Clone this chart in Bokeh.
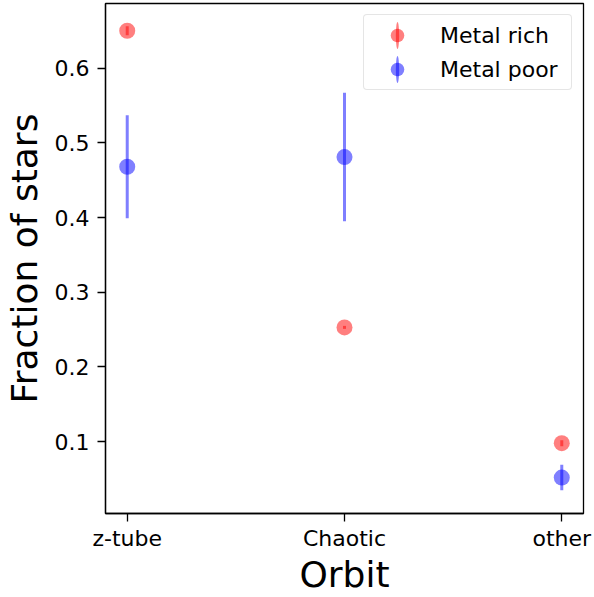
import numpy as np
from bokeh.plotting import figure
from bokeh.models import (ColumnDataSource, Range1d, FixedTicker, Legend, LegendItem, Ellipse)
from bokeh.embed import file_html
from bokeh.resources import INLINE

categories = ["z-tube", "Chaotic", "other"]
rich_vals = [0.650, 0.253, 0.098]
rich_errs = [0.006, 0.002, 0.004]
poor_vals = [0.468, 0.481, 0.052]
poor_errs = [0.069, 0.086, 0.017]
y_ticks = [0.1, 0.2, 0.3, 0.4, 0.5, 0.6]

FONT = "DejaVu Sans"

p = figure(width=594, height=597, output_backend="svg", toolbar_location=None,
           x_range=Range1d(-0.1, 2.1), y_range=Range1d(0.0039, 0.6865),
           min_border_left=105, min_border_right=11, min_border_top=3, min_border_bottom=83)
p.grid.visible = False
p.outline_line_color = "black"
p.outline_line_width = 1.3
p.background_fill_color = "white"
p.border_fill_color = "white"

xs = list(range(len(categories)))

def series(vals, errs, color):
    src = ColumnDataSource(dict(
        x=xs, y=vals,
        lo=[v - e for v, e in zip(vals, errs)],
        hi=[v + e for v, e in zip(vals, errs)]))
    sc = p.scatter("x", "y", source=src, size=16, marker="circle",
                   fill_color=color, fill_alpha=0.5, line_color=None)
    seg = p.segment("x", "lo", "x", "hi", source=src, line_color=color,
                    line_alpha=0.5, line_width=3)
    # legend-only glyph: a thin upright ellipse stands for the error bar
    leg_src = ColumnDataSource(dict(x=[np.nan], y=[np.nan]))
    el = p.add_glyph(leg_src, Ellipse(x="x", y="y", width=3.2, height=26,
                                      width_units="screen", height_units="screen",
                                      fill_color=color, fill_alpha=0.5, line_color=None))
    return sc, seg, el

r_sc, r_seg, r_el = series(rich_vals, rich_errs, "red")
b_sc, b_seg, b_el = series(poor_vals, poor_errs, "blue")

xa = p.xaxis[0]
xa.ticker = FixedTicker(ticks=xs)
xa.major_label_overrides = {i: c for i, c in enumerate(categories)}
ya = p.yaxis[0]
ya.ticker = FixedTicker(ticks=y_ticks)

for ax in (xa, ya):
    ax.axis_line_color = "black"
    ax.axis_line_width = 1.3
    ax.major_tick_line_width = 1.3
    ax.major_tick_out = 8
    ax.major_tick_in = 0
    ax.minor_tick_line_color = None
    ax.major_label_text_font = FONT
    ax.major_label_text_font_size = "22px"
    ax.major_label_text_color = "black"
    ax.axis_label_text_font = FONT
    ax.axis_label_text_font_size = "36px"
    ax.axis_label_text_font_style = "normal"
    ax.axis_label_text_color = "black"

xa.axis_label = "Orbit"
ya.axis_label = "Fraction of stars"
xa.major_label_standoff = 4
xa.axis_label_standoff = 0
ya.major_label_standoff = 8
ya.axis_label_standoff = 7

legend = Legend(items=[
    LegendItem(label="Metal rich", renderers=[r_sc, r_el]),
    LegendItem(label="Metal poor", renderers=[b_sc, b_el]),
], location="top_right")
legend.margin = 11
legend.padding = 3
legend.spacing = 0
legend.glyph_height = 34
legend.glyph_width = 60
legend.label_standoff = 13
legend.label_width = 128
legend.label_text_font = FONT
legend.label_text_font_size = "22px"
legend.label_text_color = "black"
legend.label_text_baseline = "middle"
legend.border_line_color = "#cccccc"
legend.border_line_width = 1
legend.border_radius = 4
legend.background_fill_alpha = 0.8
p.add_layout(legend)

open("out.html", "w").write(file_html(p, INLINE))
